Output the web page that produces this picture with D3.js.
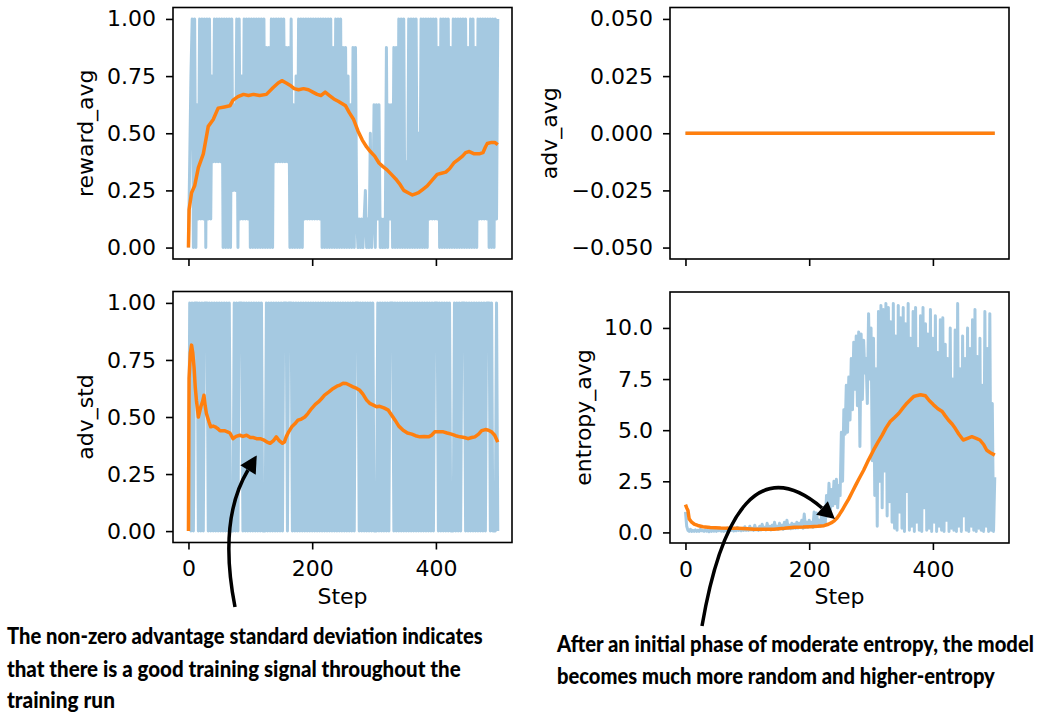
<!DOCTYPE html>
<html>
<head>
<meta charset="utf-8">
<script src="https://cdn.jsdelivr.net/npm/d3@7"></script>
<style>
body { margin: 0; background: #fff; }
svg { display: block; }
.axis text { font-family: "DejaVu Sans", sans-serif; font-size: 22px; fill: #000; }
.axis line { stroke: #000; stroke-width: 1.6; }
.label { font-family: "DejaVu Sans", sans-serif; font-size: 22px; fill: #000; }
.note { font-family: Lato, "Open Sans", sans-serif; font-weight: 900; font-size: 22px; fill: #000; }
</style>
</head>
<body>
<svg id="chart"></svg>
<script>
// raw series are logged every 2 steps (0, 2, ..., 500)
const rawSteps = d3.range(0, 501, 2)

// reward_avg per step, in eighths (8 samples per group)
const rewardEighths = [
    0,3,6,8,0,8,0,5,1,8, 1,8,1,8,0,8,1,8,1,6, 3,8,3,8,3,8,3,8,0,8, 0,8,0,8,0,8,2,5,2,8,
    0,8,1,6,1,8,1,8,1,8, 0,8,0,8,0,8,0,8,0,8, 0,8,0,7,0,7,0,8,0,8, 3,8,3,8,3,8,3,8,3,7,
    3,7,0,8,0,5,0,6,0,8, 0,8,0,8,1,8,1,8,1,8, 1,8,1,8,1,8,1,8,0,8, 0,8,0,8,0,8,0,7,0,8,
    0,8,0,8,0,7,0,7,0,6, 0,5,0,7,0,7,1,0,1,0, 1,0,1,2,0,1,0,4,0,1, 5,0,5,1,5,0,1,0,1,0,
    7,0,5,1,5,0,7,0,7,0, 8,0,8,0,8,0,3,0,8,0, 8,0,8,0,8,0,4,0,8,0, 8,0,8,0,8,1,8,1,8,1,
    8,1,7,0,8,0,8,0,8,0, 8,0,7,0,8,0,8,0,8,0, 8,0,8,0,8,0,7,0,8,0, 8,0,7,0,8,1,8,1,8,1,
    8,1,8,0,8,0,8,0,8,1, 8
]
const rewardSmooth = [
    [0,0],[1,0.165],[5,0.24],[10,0.27],[16,0.35],[24,0.41],[32,0.53],[40,0.56],[48,0.61],[58,0.615],
    [67,0.62],[72,0.645],[80,0.66],[89,0.67],[97,0.665],[105,0.67],[115,0.665],[126,0.67],[137,0.70],[145,0.72],
    [151,0.73],[158,0.72],[164,0.71],[171,0.695],[178,0.69],[186,0.695],[194,0.69],[201,0.68],[208,0.67],[214,0.665],
    [221,0.68],[228,0.665],[235,0.65],[242,0.64],[248,0.63],[254,0.62],[260,0.59],[267,0.56],[274,0.51],[281,0.47],
    [288,0.44],[294,0.42],[301,0.40],[308,0.37],[314,0.355],[321,0.34],[328,0.32],[335,0.30],[341,0.28],[348,0.25],
    [355,0.24],[362,0.23],[367,0.235],[372,0.24],[379,0.255],[386,0.27],[394,0.295],[402,0.32],[409,0.325],[416,0.33],
    [422,0.345],[429,0.37],[436,0.385],[443,0.40],[448,0.415],[454,0.42],[462,0.41],[470,0.41],[476,0.415],[480,0.44],
    [483,0.455],[490,0.46],[495,0.46],[500,0.45]
]

// adv_avg is flat at zero
const advAvgRaw = [[0,0],[500,0]]
const advAvgSmooth = [[0,0],[500,0]]

// adv_std per step (0 when all rewards in a group are equal)
const advStdRaw = [
    0,1,0,1,0,1,1,1,0,1, 0,1,0,1,1,1,0,1,0,1, 0,1,0,1,0,1,0,1,0,1, 0,1,0,1,0,0,0,1,0,1,
    0,1,1,1,0,1,0,1,0,1, 0,1,0,1,0,1,0,1,0,1, 0,0,0,1,0,1,0,1,0,1, 0,1,0,1,0,1,0,1,1,1,
    0,1,1,1,0,1,0,1,0,1, 0,1,0,1,0,1,0,1,0,1, 0,1,0,1,0,1,0,1,0,1, 0,1,0,1,0,1,0,1,0,1,
    0,1,0,1,0,1,0,1,0,1, 0,1,0,1,0,1,1,1,0,1, 0,1,0,1,0,1,0,1,0,1, 0,0,0,1,0,1,0,1,0,1,
    0,1,0,1,1,1,0,1,0,1, 0,1,0,1,0,1,0,1,0,1, 0,1,0,1,0,1,0,1,0,1, 0,1,0,1,0,1,0,1,0,1,
    1,1,0,1,0,1,0,1,0,1, 0,1,0,0,0,1,0,1,0,1, 0,1,1,1,0,1,0,1,0,1, 0,1,0,1,0,1,0,1,0,1,
    0,1,1,1,0,1,0,0,0,1, 0
]
const advStdSmooth = [
    [0,0],[1,0.67],[3,0.78],[5,0.815],[7,0.78],[9,0.72],[11,0.63],[13,0.57],[16,0.50],[20,0.545],
    [23,0.57],[25,0.595],[27,0.55],[29,0.515],[33,0.48],[36,0.457],[40,0.46],[43,0.457],[47,0.45],[51,0.44],
    [58,0.44],[63,0.435],[67,0.43],[72,0.405],[77,0.415],[83,0.42],[88,0.415],[94,0.42],[100,0.41],[105,0.41],
    [110,0.405],[116,0.405],[121,0.40],[127,0.39],[132,0.385],[137,0.395],[142,0.413],[147,0.395],[152,0.385],[155,0.39],
    [158,0.413],[162,0.435],[167,0.457],[172,0.47],[177,0.486],[182,0.49],[188,0.50],[193,0.515],[199,0.537],[205,0.555],
    [210,0.566],[215,0.58],[220,0.596],[227,0.61],[234,0.625],[240,0.635],[245,0.64],[250,0.648],[255,0.647],[260,0.64],
    [266,0.632],[272,0.625],[277,0.617],[282,0.60],[288,0.574],[293,0.56],[299,0.552],[304,0.545],[309,0.547],[316,0.54],
    [323,0.53],[328,0.51],[334,0.486],[340,0.46],[347,0.442],[354,0.43],[361,0.425],[367,0.418],[374,0.413],[381,0.415],
    [388,0.413],[393,0.42],[398,0.435],[405,0.435],[412,0.435],[418,0.43],[425,0.425],[432,0.418],[439,0.413],[446,0.41],
    [452,0.405],[458,0.41],[463,0.413],[469,0.425],[474,0.44],[480,0.445],[485,0.442],[490,0.435],[495,0.42],[500,0.39]
]

// entropy_avg per step
const entropyRaw = [
    1.0,0.3,0.1,0.05,0.15,0.05,0.1,0.05,0.12,0.05, 0.1,0.05,0.15,0.08,0.1,0.05,0.12,0.06,0.1,0.04,
    0.1,0.05,0.18,0.06,0.1,0.05,0.12,0.08,0.2,0.06, 0.12,0.05,0.15,0.08,0.22,0.06,0.12,0.1,0.18,0.07,
    0.15,0.08,0.25,0.1,0.15,0.08,0.2,0.1,0.28,0.1, 0.15,0.1,0.3,0.12,0.2,0.1,0.35,0.12,0.2,0.1,
    0.3,0.12,0.4,0.15,0.25,0.12,0.45,0.15,0.3,0.12, 0.35,0.15,0.5,0.18,0.3,0.15,0.45,0.2,0.35,0.15,
    0.5,0.2,0.6,0.2,0.35,0.18,0.45,0.2,0.4,0.2, 0.5,0.22,0.45,0.25,0.6,0.2,0.9,0.25,0.5,0.25,
    0.6,0.3,0.5,0.25,1.0,0.3,0.95,0.3,0.6,0.3, 0.8,0.35,1.2,0.4,1.8,0.8,2.4,1.0,2.1,1.3,
    2.5,1.4,2.6,1.2,2.3,1.8,4.9,2.5,6.0,4.8, 7.2,4.9,7.6,5.5,8.5,6.0,9.3,7.0,9.6,6.2,
    9.8,4.2,9.7,6.5,9.4,7.8,8.5,6.3,10.7,7.5, 10.0,3.5,9.5,1.8,8.0,0.3,10.8,2.5,11.1,1.2,
    10.9,3.0,11.2,0.8,11.0,1.5,10.3,0.5,11.2,0.2, 9.6,0.1,11.1,1.0,10.5,0.2,11.0,0.05,10.2,2.0,
    11.2,0.1,9.5,0.3,10.8,0.05,11.0,0.5,9.0,0.1, 10.6,0.05,11.0,1.2,10.2,0.1,9.7,0.2,10.9,0.05,
    9.5,0.5,10.6,0.05,8.8,0.3,10.4,0.1,10.5,0.05, 9.2,0.6,8.5,0.05,10.0,0.2,7.5,0.1,9.9,0.05,
    11.2,0.3,8.0,0.05,9.6,0.8,8.5,0.1,10.0,0.05, 9.0,0.3,10.4,0.1,10.9,0.05,8.6,0.2,9.5,0.1,
    7.2,0.05,10.8,0.3,9.0,0.05,10.7,0.1,6.3,0.05, 2.7
]
const entropySmooth = [
    [0,1.36],[2,1.2],[4,1.07],[6,0.66],[10,0.5],[14,0.41],[20,0.34],[28,0.28],[40,0.24],[57,0.21],
    [70,0.2],[84,0.2],[100,0.18],[111,0.16],[125,0.16],[143,0.16],[160,0.2],[176,0.25],[190,0.26],[202,0.28],
    [214,0.3],[224,0.33],[231,0.4],[237,0.49],[241,0.58],[245,0.70],[249,0.88],[253,1.07],[258,1.33],[264,1.64],
    [270,2.0],[275,2.30],[281,2.65],[288,3.04],[296,3.55],[304,4.02],[311,4.4],[318,4.76],[324,5.1],[331,5.42],
    [338,5.62],[345,5.83],[352,6.1],[358,6.32],[364,6.5],[369,6.65],[375,6.7],[380,6.73],[388,6.68],[394,6.45],
    [401,6.24],[408,6.05],[415,5.91],[420,5.7],[425,5.50],[431,5.3],[436,5.09],[442,4.8],[449,4.52],[456,4.6],
    [463,4.68],[470,4.6],[476,4.52],[482,4.3],[487,4.02],[493,3.9],[500,3.78]
]

const xTicks = [0, 200, 400]
const unitTicks = [0, 0.25, 0.5, 0.75, 1]
const advAvgTicks = [-0.05, -0.025, 0, 0.025, 0.05]
const entropyTicks = [0, 2.5, 5, 7.5, 10]

const noteLeft = [
    'The non-zero advantage standard deviation indicates',
    'that there is a good training signal throughout the',
    'training run'
]
const noteRight = [
    'After an initial phase of moderate entropy, the model',
    'becomes much more random and higher-entropy'
]

const width = 1042
const height = 722
const xDomain = [-25, 523]
const blue = '#1f77b4'
const orange = '#ff7f0e'

const svg = d3.select('#chart')
    .attr('width', width)
    .attr('height', height)

const panels = [
    { name: 'reward_avg', rect: [173, 7.5, 512, 259],
      raw: rawSteps.map((s, i) => [s, rewardEighths[i] / 8]), smooth: rewardSmooth,
      ticks: unitTicks, fmt: '.2f', showX: false, labelX: 93 },
    { name: 'adv_avg', rect: [670, 7.5, 1009, 259],
      raw: advAvgRaw, smooth: advAvgSmooth,
      ticks: advAvgTicks, fmt: '.3f', showX: false, labelX: 557 },
    { name: 'adv_std', rect: [173, 291.5, 512, 542.5],
      raw: rawSteps.map((s, i) => [s, advStdRaw[i]]), smooth: advStdSmooth,
      ticks: unitTicks, fmt: '.2f', showX: true, labelX: 93 },
    { name: 'entropy_avg', rect: [670, 292, 1009, 543],
      raw: rawSteps.map((s, i) => [s, entropyRaw[i]]), smooth: entropySmooth,
      ticks: entropyTicks, fmt: '.1f', showX: true, labelX: 590.5 }
]

// matplotlib style: data extent plus 5% margin
const padDomain = (vals) => {
    let lo = d3.min(vals)
    let hi = d3.max(vals)
    if (hi === lo) { lo -= 0.05; hi += 0.05 }
    const m = (hi - lo) * 0.05
    return [lo - m, hi + m]
}

panels.forEach((p, idx) => {
    const [x0, y0, x1, y1] = p.rect
    const x = d3.scaleLinear().domain(xDomain).range([x0, x1])
    const y = d3.scaleLinear()
        .domain(padDomain(p.raw.map(d => d[1]).concat(p.smooth.map(d => d[1]))))
        .range([y1, y0])

    const clipId = 'clip' + idx
    svg.append('clipPath').attr('id', clipId)
        .append('rect')
        .attr('x', x0).attr('y', y0)
        .attr('width', x1 - x0).attr('height', y1 - y0)

    const line = d3.line().x(d => x(d[0])).y(d => y(d[1]))
    const g = svg.append('g').attr('clip-path', `url(#${clipId})`)
    g.append('path')
        .datum(p.raw)
        .attr('d', line)
        .attr('fill', 'none')
        .attr('stroke', blue)
        .attr('stroke-opacity', 0.4)
        .attr('stroke-width', 3)
        .attr('stroke-linejoin', 'round')
    g.append('path')
        .datum(p.smooth)
        .attr('d', line)
        .attr('fill', 'none')
        .attr('stroke', orange)
        .attr('stroke-width', 3.5)
        .attr('stroke-linejoin', 'round')

    const yAxis = d3.axisLeft(y)
        .tickValues(p.ticks)
        .tickFormat(d3.format(p.fmt))
        .tickSize(7)
        .tickPadding(10)
    svg.append('g')
        .attr('class', 'axis')
        .attr('transform', `translate(${x0}, 0)`)
        .call(yAxis)
        .call(a => a.select('.domain').remove())

    const xAxis = d3.axisBottom(x)
        .tickValues(xTicks)
        .tickSize(7)
        .tickPadding(11)
    if (!p.showX) xAxis.tickFormat('')
    svg.append('g')
        .attr('class', 'axis')
        .attr('transform', `translate(0, ${y1})`)
        .call(xAxis)
        .call(a => a.select('.domain').remove())

    svg.append('rect')
        .attr('x', x0).attr('y', y0)
        .attr('width', x1 - x0).attr('height', y1 - y0)
        .attr('fill', 'none')
        .attr('stroke', '#000')
        .attr('stroke-width', 1.6)

    svg.append('text')
        .attr('class', 'label')
        .attr('text-anchor', 'middle')
        .attr('transform', `translate(${p.labelX}, ${(y0 + y1) / 2}) rotate(-90)`)
        .text(p.name)

    if (p.showX) {
        svg.append('text')
            .attr('class', 'label')
            .attr('text-anchor', 'middle')
            .attr('x', (x0 + x1) / 2)
            .attr('y', 604)
            .text('Step')
    }
})

// notes below the panels, squeezed horizontally to the reference widths
const drawNote = (lines, x, baselines, lengths) => {
    lines.forEach((t, i) => {
        const g = svg.append('g')
        const txt = g.append('text')
            .attr('class', 'note')
            .attr('x', 0)
            .attr('y', 0)
            .text(t)
        const w = txt.node().getComputedTextLength()
        g.attr('transform', `translate(${x}, ${baselines[i]}) scale(${lengths[i] / w}, 1)`)
    })
}
drawNote(noteLeft, 7, [644, 677, 708], [476, 454, 108])
drawNote(noteRight, 557, [651.5, 683.5], [477, 438])

// curved arrows with filled heads
const drawArrow = (d, ctrl, end) => {
    svg.append('path')
        .attr('d', d)
        .attr('fill', 'none')
        .attr('stroke', '#000')
        .attr('stroke-width', 3.5)
    const dx = end[0] - ctrl[0]
    const dy = end[1] - ctrl[1]
    const len = Math.hypot(dx, dy)
    const ux = dx / len
    const uy = dy / len
    const headLen = 17
    const half = 9
    const tip = [end[0] + ux * headLen, end[1] + uy * headLen]
    const a = [end[0] - uy * half, end[1] + ux * half]
    const b = [end[0] + uy * half, end[1] - ux * half]
    svg.append('path')
        .attr('d', `M${tip}L${a}L${b}Z`)
        .attr('fill', '#000')
}
drawArrow('M235,607 Q218,520 248,470', [218, 520], [248, 470])
drawArrow('M702,626 C722,510 760,455 822,508', [760, 455], [822, 508])
</script>
</body>
</html>
